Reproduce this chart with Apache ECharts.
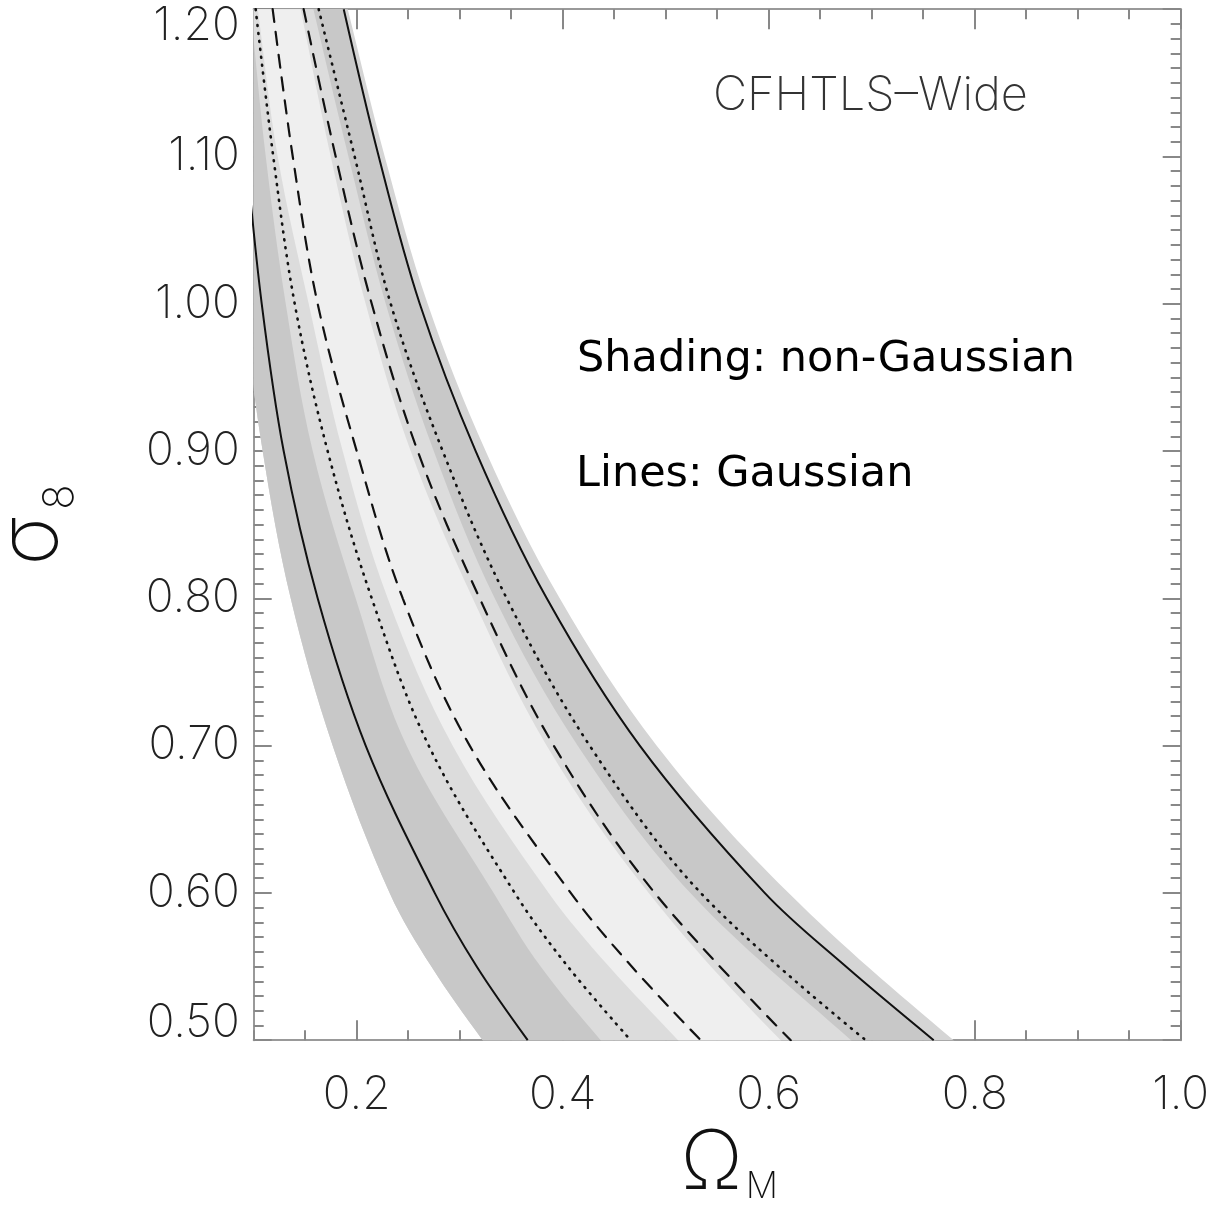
<!DOCTYPE html>
<html><head><meta charset="utf-8">
<script src="https://cdn.jsdelivr.net/npm/echarts@6/dist/echarts.min.js"></script>
<style>html,body{margin:0;padding:0;background:#fff}#c{width:1223px;height:1208px}</style>
</head><body><div id="c"></div>
<script>
const xMajorTicks = [0.2, 0.4, 0.6, 0.8, 1.0];
const xMinorTicks = [0.1, 0.15, 0.2, 0.25, 0.3, 0.35, 0.4, 0.45, 0.5, 0.55, 0.6, 0.65, 0.7, 0.75, 0.8, 0.85, 0.9, 0.95, 1.0];
const yMajorTicks = [0.5, 0.6, 0.7, 0.8, 0.9, 1.0, 1.1, 1.2];
const yMinorTicks = [];
for (let i = 0; i <= 70; i++) yMinorTicks.push(+(0.5 + i * 0.01).toFixed(2));

// shading (non-Gaussian) boundaries: [Omega_M, sigma_8]
const outerL = [[0.052,1.26],[0.060,1.20],[0.075,1.10],[0.090,1.00],[0.1087,0.90],[0.1359,0.80],[0.1767,0.70],[0.2320,0.60],[0.2725,0.55],[0.3223,0.50],[0.387,0.44]];
const outerR = [[0.170,1.26],[0.1913,1.20],[0.2272,1.10],[0.2689,1.00],[0.3252,0.90],[0.3971,0.80],[0.4913,0.70],[0.6194,0.60],[0.7796,0.50],[0.89,0.44]];
const darkR  = [[0.168,1.26],[0.1884,1.20],[0.2224,1.10],[0.2622,1.00],[0.3165,0.90],[0.3855,0.80],[0.4758,0.70],[0.5971,0.60],[0.676,0.55],[0.7612,0.50],[0.87,0.44]];
const band2L = [[0.088,1.26],[0.097,1.20],[0.1117,1.10],[0.1311,1.00],[0.1573,0.90],[0.1990,0.80],[0.2485,0.70],[0.3330,0.60],[0.3786,0.55],[0.4369,0.50],[0.512,0.44]];
const band2R = [[0.138,1.26],[0.158,1.20],[0.192,1.10],[0.2282,1.00],[0.2748,0.90],[0.3340,0.80],[0.4146,0.70],[0.524,0.60],[0.680,0.50],[0.78,0.44]];
const band1L = [[0.093,1.26],[0.104,1.20],[0.1233,1.10],[0.1534,1.00],[0.1864,0.90],[0.2301,0.80],[0.2932,0.70],[0.3864,0.60],[0.445,0.55],[0.512,0.50],[0.592,0.44]];
const band1R = [[0.128,1.26],[0.1456,1.20],[0.1748,1.10],[0.2087,1.00],[0.2524,0.90],[0.3126,0.80],[0.3845,0.70],[0.4835,0.60],[0.6117,0.50],[0.707,0.44]];

// Gaussian contour lines
const solidL  = [[0.093,1.10],[0.1078,1.00],[0.1291,0.90],[0.1621,0.80],[0.2087,0.70],[0.2757,0.60],[0.3165,0.55],[0.3660,0.50]];
const dottedL = [[0.1019,1.20],[0.119,1.10],[0.1398,1.00],[0.1718,0.90],[0.2146,0.80],[0.2699,0.70],[0.3534,0.60],[0.405,0.55],[0.4660,0.50]];
const dashedL = [[0.1184,1.20],[0.1379,1.10],[0.1621,1.00],[0.2000,0.90],[0.2447,0.80],[0.3097,0.70],[0.4078,0.60],[0.467,0.55],[0.534,0.50]];
const dashedR = [[0.1485,1.20],[0.1796,1.10],[0.2146,1.00],[0.2592,0.90],[0.3194,0.80],[0.3913,0.70],[0.4893,0.60],[0.6214,0.50]];
const dottedR = [[0.1631,1.20],[0.198,1.10],[0.2330,1.00],[0.2835,0.90],[0.3456,0.80],[0.4262,0.70],[0.5340,0.60],[0.6942,0.50]];
const solidR  = [[0.1874,1.20],[0.2214,1.10],[0.2612,1.00],[0.3155,0.90],[0.3845,0.80],[0.4748,0.70],[0.5961,0.60],[0.675,0.55],[0.7602,0.50]];

const shadeRegions = [
  {left: outerL, right: outerR, color: '#d5d5d5'},
  {left: outerL, right: darkR,  color: '#c8c8c8'},
  {left: band2L, right: band2R, color: '#dcdcdc'},
  {left: band1L, right: band1R, color: '#efefef'}
];

const THIN = "Inter, 'DejaVu Sans', sans-serif";
const AX = '#999999', TK = '#888888';

function xAx(pos, major) {
  return {
    type: 'value', min: 0.1, max: 1.0, position: pos, gridIndex: 0,
    axisLine: {show: major, onZero: false, lineStyle: {color: AX, width: 2}},
    axisTick: {show: true, inside: true, length: major ? 20 : 10,
      customValues: major ? xMajorTicks : xMinorTicks, lineStyle: {color: TK, width: 2}},
    axisLabel: (major && pos === 'bottom') ? {show: true, customValues: xMajorTicks,
      formatter: v => v.toFixed(1), fontSize: 46, fontFamily: THIN, fontWeight: 200, color: '#222', margin: 40, lineHeight: 30}
      : {show: false},
    splitLine: {show: false}
  };
}
function yAx(pos, major) {
  return {
    type: 'value', min: 0.5, max: 1.2, position: pos, gridIndex: 0,
    axisLine: {show: major, onZero: false, lineStyle: {color: AX, width: 2}},
    axisTick: {show: true, inside: true, length: major ? 18 : 10,
      customValues: major ? yMajorTicks : yMinorTicks, lineStyle: {color: TK, width: 2}},
    axisLabel: (major && pos === 'left') ? {show: true, customValues: yMajorTicks,
      formatter: v => v.toFixed(2), fontSize: 46, fontFamily: THIN, fontWeight: 200, color: '#222', margin: 14, lineHeight: 34,
      verticalAlignMinLabel: 'bottom', verticalAlignMaxLabel: 'top'}
      : {show: false},
    splitLine: {show: false}
  };
}

const xAxes = [xAx('bottom', true), xAx('bottom', false), xAx('top', true), xAx('top', false)];
xAxes[0].name = '{o|Ω}{m|M}';
xAxes[0].nameLocation = 'middle';
xAxes[0].nameGap = 70;
xAxes[0].nameTextStyle = {padding: [0, 0, 0, 24], rich: {
  o: {fontSize: 82, lineHeight: 82, fontFamily: THIN, fontWeight: 200, color: '#111', padding: [0, 3, 13, 0], verticalAlign: 'top'},
  m: {fontSize: 36, lineHeight: 36, fontFamily: THIN, fontWeight: 200, color: '#111', verticalAlign: 'bottom'}
}};
const yAxes = [yAx('left', true), yAx('left', false), yAx('right', true), yAx('right', false)];

function lineSeries(data, type, width) {
  return {
    type: 'line', data: data, xAxisIndex: 0, yAxisIndex: 0, smooth: 0.35, smoothMonotone: 'none',
    showSymbol: false, symbol: 'none', silent: true, z: 5, clip: true,
    lineStyle: {color: '#111', width: width, type: type, cap: type === 'solid' ? 'butt' : 'round'}
  };
}

const option = {
  animation: false,
  backgroundColor: '#ffffff',
  grid: {left: 253.7, right: 42.3, top: 9.2, bottom: 167.8, containLabel: false, outerBoundsMode: 'none'},
  xAxis: xAxes,
  yAxis: yAxes,
  graphic: [
    {type: 'text', x: 32, y: 541, rotation: Math.PI / 2, silent: true, style: {text: 'σ', font: "200 82px Inter, 'DejaVu Sans', sans-serif", fill: '#111', textAlign: 'center', align: 'center', textVerticalAlign: 'middle', verticalAlign: 'middle'}},
    {type: 'text', x: 60.5, y: 497, rotation: Math.PI / 2, silent: true, style: {text: '8', font: "200 42px Inter, 'DejaVu Sans', sans-serif", fill: '#111', textAlign: 'center', align: 'center', textVerticalAlign: 'middle', verticalAlign: 'middle'}},
    {type: 'text', x: 713, y: 95.5, silent: true, style: {text: 'CFHTLS–Wide', font: "200 47px Inter, 'DejaVu Sans', sans-serif", fill: '#333', textVerticalAlign: 'middle', verticalAlign: 'middle'}},
    {type: 'text', x: 577, y: 360, silent: true, style: {text: 'Shading: non-Gaussian', font: "43px 'DejaVu Sans', sans-serif", fill: '#000', textVerticalAlign: 'middle', verticalAlign: 'middle'}},
    {type: 'text', x: 576, y: 475, silent: true, style: {text: 'Lines: Gaussian', font: "43px 'DejaVu Sans', sans-serif", fill: '#000', textVerticalAlign: 'middle', verticalAlign: 'middle'}}
  ],
  series: [
    {
      type: 'custom', xAxisIndex: 0, yAxisIndex: 0, silent: true, z: 1,
      data: shadeRegions.map((r, i) => i),
      renderItem: function (params, api) {
        const r = shadeRegions[params.dataIndex];
        const pts = r.left.map(p => api.coord(p)).concat(r.right.slice().reverse().map(p => api.coord(p)));
        const cs = params.coordSys;
        return {
          type: 'polygon',
          shape: {points: pts, smooth: 0.35},
          style: {fill: r.color, stroke: null},
          clipPath: {type: 'rect', shape: {x: cs.x, y: cs.y, width: cs.width, height: cs.height}}
        };
      }
    },
    lineSeries(solidL, 'solid', 2),
    lineSeries(solidR, 'solid', 2),
    lineSeries(dottedL, [1, 7], 2.6),
    lineSeries(dottedR, [1, 7], 2.6),
    lineSeries(dashedL, [13, 10], 2.2),
    lineSeries(dashedR, [13, 10], 2.2)
  ]
};
const chart = echarts.init(document.getElementById('c'), null, {renderer: 'canvas'});
chart.setOption(option);
</script>
</body></html>
